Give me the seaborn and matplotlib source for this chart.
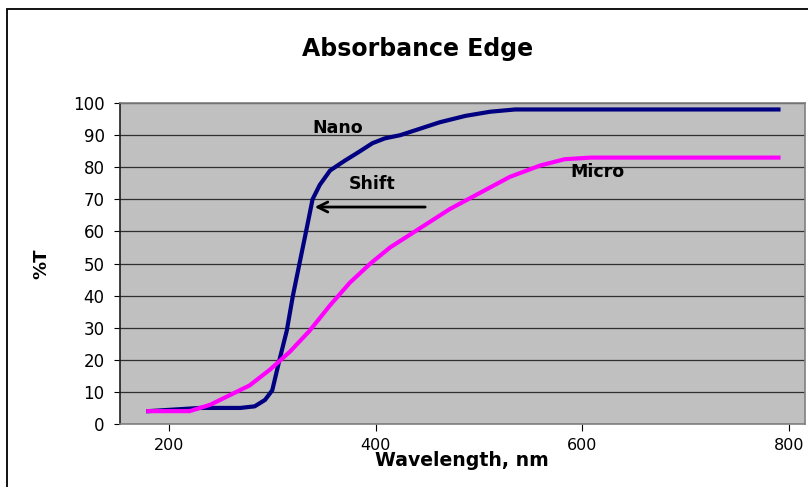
import pandas as pd
import matplotlib
matplotlib.use("Agg")
import matplotlib.pyplot as plt
import seaborn as sns
from matplotlib.patches import Rectangle

# Data
nano_wl = [180, 230, 269, 283, 293, 300, 307, 314, 320, 327, 334, 339, 346, 356, 370,
           385, 397, 409, 424, 443, 462, 487, 511, 535, 560, 790]
nano_t = [4, 5, 5, 5.5, 7.5, 10.5, 20, 29, 40, 51, 62, 70, 74.5, 79, 82,
          85, 87.5, 89, 90, 92, 94, 96, 97.3, 98, 98, 98]

micro_wl = [180, 220, 240, 259, 278, 298, 317, 336, 356, 375, 395, 414, 443, 472,
            501, 530, 559, 583, 608, 790]
micro_t = [4, 4, 6, 9, 12, 17, 22.5, 29, 37, 44, 50, 55, 61, 67,
           72, 77, 80.5, 82.5, 83, 83]

x_ticks = [200, 400, 600, 800]
y_ticks = list(range(0, 101, 10))

nano = pd.DataFrame({"Wavelength": nano_wl, "T": nano_t})
micro = pd.DataFrame({"Wavelength": micro_wl, "T": micro_t})

plt.rcParams["font.family"] = ["DejaVu Sans"]

fig = plt.figure(figsize=(8.08, 4.87), dpi=100)
ax = fig.add_axes([0.1485, 0.1294, 0.8478, 0.659])

# outer chart border (cut off at right / bottom as in the reference)
fig.patches.append(Rectangle((7 / 808, -0.1), 1.2, 1 - 9 / 487 + 0.1,
                             transform=fig.transFigure, fill=False,
                             edgecolor="black", linewidth=1.3))

ax.set_facecolor("#C0C0C0")
sns.lineplot(data=nano, x="Wavelength", y="T", color="#000080", linewidth=3,
             ax=ax, sort=False)
sns.lineplot(data=micro, x="Wavelength", y="T", color="#FF00FF", linewidth=3,
             ax=ax, sort=False)

ax.set_xlim(152.6, 815.7)
ax.set_ylim(0, 100)
ax.set_xticks(x_ticks)
ax.set_yticks(y_ticks)
ax.grid(axis="y", color="#303030", linewidth=0.9)
ax.set_axisbelow(True)
for s in ax.spines.values():
    s.set_color("#808080")
    s.set_linewidth(1.2)
ax.spines["left"].set_color("#202020")
ax.tick_params(axis="y", direction="out", length=4.5, labelsize=12, pad=6.5)
ax.tick_params(axis="x", direction="out", length=5, labelsize=11.5, pad=5)

ax.set_xlabel("Wavelength, nm", fontsize=13.6, fontweight="bold")
ax.xaxis.set_label_coords(0.4985, -0.084)
ax.set_ylabel("%T", fontsize=13, fontweight="bold")
ax.yaxis.set_label_coords(-0.102, 0.5)
ax.set_title("Absorbance Edge", fontsize=17, fontweight="bold", pad=34, x=0.435)

ax.text(363.6, 92.2, "Nano", fontsize=12.5, fontweight="bold", ha="center", va="center")
ax.text(396.5, 74.8, "Shift", fontsize=12.5, fontweight="bold", ha="center", va="center")
ax.text(615, 78.5, "Micro", fontsize=12.5, fontweight="bold", ha="center", va="center")
ax.annotate("", xy=(338.4, 67.6), xytext=(450.7, 67.6),
            arrowprops=dict(arrowstyle="->", color="black", lw=2, mutation_scale=18))

fig.savefig("out.png", dpi=100)
